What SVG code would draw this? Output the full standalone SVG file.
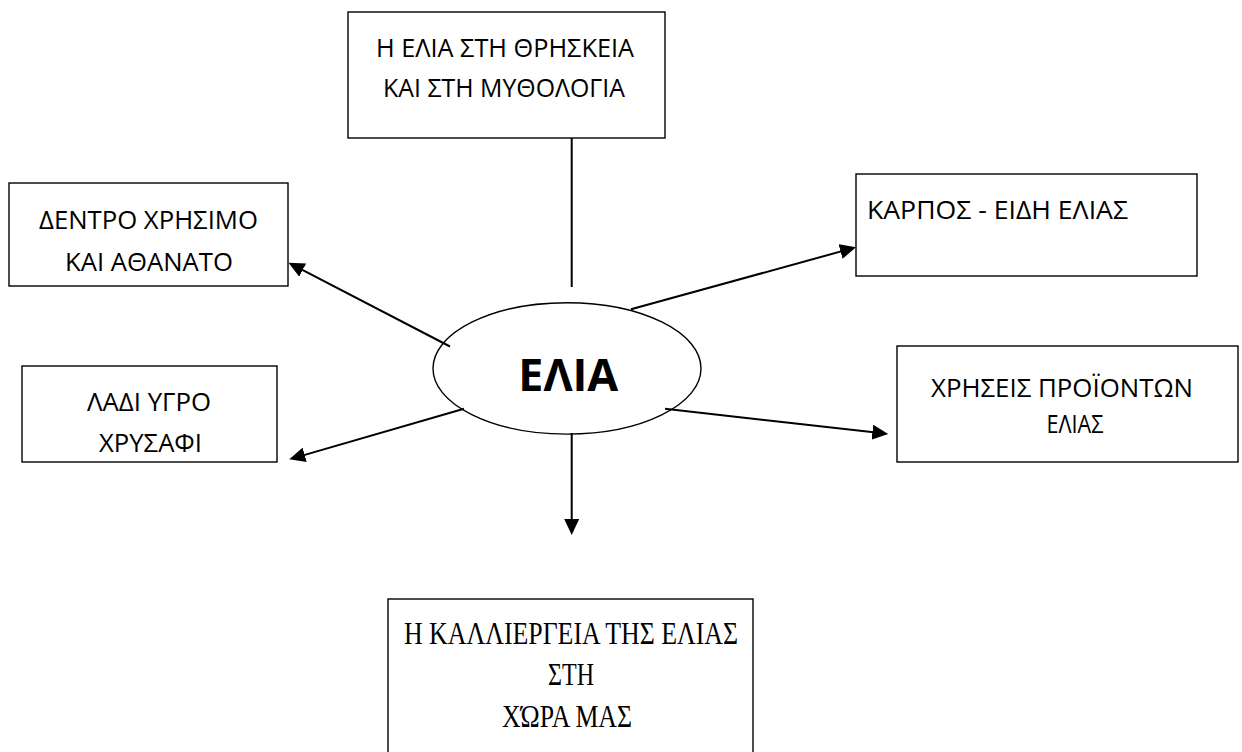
<svg xmlns="http://www.w3.org/2000/svg" width="1242" height="752" viewBox="0 0 1242 752">
  <style>
    .box { fill: #ffffff; stroke: #000000; stroke-width: 1.4; }
    .lbl { font-family: "Open Sans", "Liberation Sans", sans-serif; font-size: 25px; fill: #000000; }
    .ser { font-family: "Liberation Serif", "Times New Roman", serif; font-size: 31px; fill: #000000; }
    .main { font-family: "Open Sans", "Liberation Sans", sans-serif; font-size: 45px; font-weight: bold; fill: #000000; }
    .conn { stroke: #000000; stroke-width: 2; fill: none; }
  </style>
  <defs>
    <marker id="arrow" markerUnits="userSpaceOnUse" markerWidth="16" markerHeight="15" refX="8" refY="7.5" orient="auto">
      <path d="M0,0 L16,7.5 L0,15 z" fill="#000000"/>
    </marker>
  </defs>
  <rect width="1242" height="752" fill="#ffffff"/>

  <g id="connectors">
    <line class="conn" x1="571.7" y1="138" x2="571.7" y2="287"/>
    <line class="conn" x1="450" y1="346.5" x2="295.6" y2="266.4" marker-end="url(#arrow)"/>
    <line class="conn" x1="464" y1="408.8" x2="297" y2="457.1" marker-end="url(#arrow)"/>
    <line class="conn" x1="631" y1="309.3" x2="848.3" y2="249.4" marker-end="url(#arrow)"/>
    <line class="conn" x1="665" y1="408.8" x2="880.3" y2="433.1" marker-end="url(#arrow)"/>
    <line class="conn" x1="571.7" y1="433" x2="571.7" y2="527" marker-end="url(#arrow)"/>
  </g>

  <g id="node-center">
    <ellipse cx="567" cy="368.4" rx="134" ry="65.7" fill="none" stroke="#000000" stroke-width="1.4"/>
    <text class="main" x="568.3" y="390.7" text-anchor="middle" textLength="100" lengthAdjust="spacingAndGlyphs">ΕΛΙΑ</text>
  </g>

  <g id="node-religion">
    <rect class="box" x="348" y="12" width="317" height="126"/>
    <text class="lbl" x="505" y="56.7" text-anchor="middle" textLength="258" lengthAdjust="spacingAndGlyphs">Η ΕΛΙΑ ΣΤΗ ΘΡΗΣΚΕΙΑ</text>
    <text class="lbl" x="504" y="96.7" text-anchor="middle" textLength="242" lengthAdjust="spacingAndGlyphs">ΚΑΙ ΣΤΗ ΜΥΘΟΛΟΓΙΑ</text>
  </g>

  <g id="node-tree">
    <rect class="box" x="9" y="183" width="279" height="103"/>
    <text class="lbl" x="148.5" y="229.3" text-anchor="middle" textLength="219" lengthAdjust="spacingAndGlyphs">ΔΕΝΤΡΟ ΧΡΗΣΙΜΟ</text>
    <text class="lbl" x="149" y="270.7" text-anchor="middle" textLength="168" lengthAdjust="spacingAndGlyphs">ΚΑΙ ΑΘΑΝΑΤΟ</text>
  </g>

  <g id="node-oil">
    <rect class="box" x="22" y="366" width="255" height="96"/>
    <text class="lbl" x="149" y="410.7" text-anchor="middle" textLength="124" lengthAdjust="spacingAndGlyphs">ΛΑΔΙ ΥΓΡΟ</text>
    <text class="lbl" x="150.5" y="451.7" text-anchor="middle" textLength="103" lengthAdjust="spacingAndGlyphs">ΧΡΥΣΑΦΙ</text>
  </g>

  <g id="node-fruit">
    <rect class="box" x="856" y="174" width="341" height="102"/>
    <text class="lbl" x="867" y="219.3" textLength="261" lengthAdjust="spacingAndGlyphs">ΚΑΡΠΟΣ - ΕΙΔΗ ΕΛΙΑΣ</text>
  </g>

  <g id="node-uses">
    <rect class="box" x="897" y="346" width="341" height="116"/>
    <text class="lbl" x="1062" y="396.7" text-anchor="middle" textLength="262" lengthAdjust="spacingAndGlyphs">ΧΡΗΣΕΙΣ ΠΡΟΪΟΝΤΩΝ</text>
    <text class="lbl" x="1075" y="433.3" text-anchor="middle" textLength="57" lengthAdjust="spacingAndGlyphs">ΕΛΙΑΣ</text>
  </g>

  <g id="node-cultivation">
    <rect class="box" x="388" y="599" width="365" height="170"/>
    <text class="ser" x="571" y="644" text-anchor="middle" textLength="334" lengthAdjust="spacingAndGlyphs">Η ΚΑΛΛΙΕΡΓΕΙΑ ΤΗΣ ΕΛΙΑΣ</text>
    <text class="ser" x="571" y="685" text-anchor="middle" textLength="46" lengthAdjust="spacingAndGlyphs">ΣΤΗ</text>
    <text class="ser" x="567" y="726.7" text-anchor="middle" textLength="130" lengthAdjust="spacingAndGlyphs">ΧΏΡΑ ΜΑΣ</text>
  </g>
</svg>
